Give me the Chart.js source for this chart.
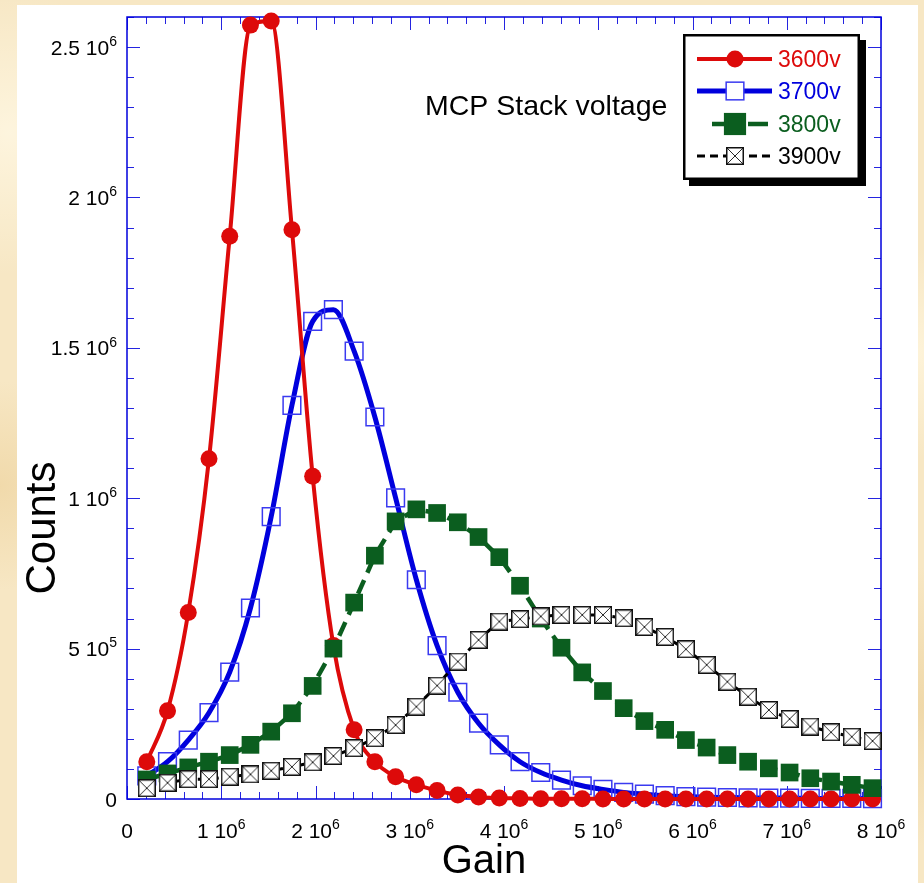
<!DOCTYPE html>
<html>
<head>
<meta charset="utf-8">
<title>MCP gain distribution</title>
<script src="https://cdn.jsdelivr.net/npm/chart.js@4.4.0/dist/chart.umd.min.js"></script>
<style>
    html, body { margin: 0; padding: 0; }
    body {
        width: 924px; height: 883px; overflow: hidden;
        background-color: #f7e7c4;
        background-image:
            radial-gradient(circle at 1% 15%, rgba(255, 248, 228, 0.8), transparent 12%),
            radial-gradient(circle at 0% 55%, rgba(238, 212, 160, 0.7), transparent 10%),
            radial-gradient(circle at 99% 40%, rgba(255, 246, 222, 0.8), transparent 10%),
            radial-gradient(circle at 100% 80%, rgba(236, 210, 158, 0.7), transparent 12%);
    }
    canvas { display: block; }
</style>
</head>
<body>
<canvas id="gainChart" width="924" height="883"></canvas>
<script>
const FONT = '"Liberation Sans", Arial, Helvetica, sans-serif';

// gain (x) of every bin
const gain = [2.1e5, 4.3e5, 6.5e5, 8.7e5, 1.09e6, 1.31e6, 1.53e6, 1.75e6, 1.97e6, 2.19e6,
    2.41e6, 2.63e6, 2.85e6, 3.07e6, 3.29e6, 3.51e6, 3.73e6, 3.95e6, 4.17e6, 4.39e6,
    4.61e6, 4.83e6, 5.05e6, 5.27e6, 5.49e6, 5.71e6, 5.93e6, 6.15e6, 6.37e6, 6.59e6,
    6.81e6, 7.03e6, 7.25e6, 7.47e6, 7.69e6, 7.91e6];

// counts per voltage
const counts3600 = [1.24e5, 2.93e5, 6.20e5, 1.131e6, 1.871e6, 2.573e6, 2.587e6, 1.893e6, 1.073e6, 5.1e5,
    2.30e5, 1.24e5, 7.4e4, 4.7e4, 2.8e4, 1.3e4, 7e3, 3e3, 2e3, 1e3,
    1e3, 1e3, 0, 0, 0, 0, 0, 0, 0, 0,
    0, 0, 0, 0, 0, 0];
const counts3700 = [7.7e4, 1.24e5, 1.96e5, 2.87e5, 4.22e5, 6.35e5, 9.39e5, 1.309e6, 1.588e6, 1.627e6,
    1.489e6, 1.270e6, 1.001e6, 7.29e5, 5.10e5, 3.55e5, 2.52e5, 1.80e5, 1.24e5, 8.8e4,
    6.3e4, 4.4e4, 3.2e4, 2.2e4, 1.6e4, 1.1e4, 8e3, 6e3, 5e3, 4e3,
    3e3, 3e3, 2e3, 2e3, 2e3, 1e3];
const counts3800 = [6.5e4, 8.5e4, 1.05e5, 1.24e5, 1.46e5, 1.80e5, 2.24e5, 2.85e5, 3.76e5, 5.0e5,
    6.53e5, 8.09e5, 9.23e5, 9.63e5, 9.51e5, 9.20e5, 8.71e5, 8.04e5, 7.09e5, 6.0e5,
    5.03e5, 4.21e5, 3.59e5, 3.02e5, 2.59e5, 2.30e5, 1.96e5, 1.71e5, 1.46e5, 1.24e5,
    1.02e5, 8.8e4, 6.9e4, 5.8e4, 4.7e4, 3.6e4];
const counts3900 = [3.6e4, 5.4e4, 6.6e4, 6.6e4, 7.4e4, 8.2e4, 9.4e4, 1.07e5, 1.22e5, 1.43e5,
    1.69e5, 2.02e5, 2.46e5, 3.07e5, 3.77e5, 4.57e5, 5.29e5, 5.90e5, 5.98e5, 6.07e5,
    6.12e5, 6.12e5, 6.12e5, 6.01e5, 5.72e5, 5.39e5, 4.98e5, 4.46e5, 3.90e5, 3.40e5,
    2.96e5, 2.66e5, 2.41e5, 2.22e5, 2.07e5, 1.93e5];

const seriesNames = ["3600v", "3700v", "3800v", "3900v"];

// tick labels ("^" marks the exponent)
const xTickValues = [0, 1e6, 2e6, 3e6, 4e6, 5e6, 6e6, 7e6, 8e6];
const xTickLabels = ["0", "1 10^6", "2 10^6", "3 10^6", "4 10^6", "5 10^6", "6 10^6", "7 10^6", "8 10^6"];
const yTickValues = [0, 5e5, 1e6, 1.5e6, 2e6, 2.5e6];
const yTickLabels = ["0", "5 10^5", "1 10^6", "1.5 10^6", "2 10^6", "2.5 10^6"];

const xTitle = "Gain";
const yTitle = "Counts";
const noteText = "MCP Stack voltage";

// square with a cross inside, used as point style for 3900v
function crossBox(size) {
    const c = document.createElement("canvas");
    c.width = size;
    c.height = size;
    const g = c.getContext("2d");
    g.fillStyle = "#ffffff";
    g.fillRect(0, 0, size, size);
    g.strokeStyle = "#111111";
    g.lineWidth = 1.5;
    g.strokeRect(0.75, 0.75, size - 1.5, size - 1.5);
    g.lineWidth = 0.9;
    g.beginPath();
    g.moveTo(1, 1); g.lineTo(size - 1, size - 1);
    g.moveTo(size - 1, 1); g.lineTo(1, size - 1);
    g.stroke();
    return c;
}
const crossImg = crossBox(18);

function pts(ys) {
    return gain.map((g, i) => ({ x: g, y: ys[i] }));
}

// label with a superscript exponent
function drawSupLabel(ctx, label, x, y, align, size) {
    const parts = label.split("^");
    const base = parts[0];
    const exp = parts[1] || "";
    ctx.font = size + "px " + FONT;
    const wb = ctx.measureText(base).width;
    ctx.font = Math.round(size * 0.66) + "px " + FONT;
    const we = exp ? ctx.measureText(exp).width : 0;
    const total = wb + we;
    let start = x;
    if (align === "center") start = x - total / 2;
    if (align === "right") start = x - total;
    ctx.textAlign = "left";
    ctx.textBaseline = "alphabetic";
    ctx.fillStyle = "#000000";
    ctx.font = size + "px " + FONT;
    ctx.fillText(base, start, y);
    if (exp) {
        ctx.font = Math.round(size * 0.66) + "px " + FONT;
        ctx.fillText(exp, start + wb, y - size * 0.42);
    }
}

// white sheet behind the plot
const sheetPlugin = {
    id: "sheet",
    beforeDraw(chart) {
        const ctx = chart.ctx;
        ctx.save();
        ctx.fillStyle = "#ffffff";
        ctx.fillRect(17, 5, 901, 878);
        ctx.restore();
    }
};

// blue frame with inward ticks on all four sides, tick labels, titles
const framePlugin = {
    id: "frame",
    beforeDatasetsDraw(chart) {
        const ctx = chart.ctx;
        const a = chart.chartArea;
        const xs = chart.scales.x;
        const ys = chart.scales.y;
        ctx.save();

        ctx.strokeStyle = "#2424e0";
        ctx.lineWidth = 1;
        ctx.beginPath();
        for (let k = 0; k <= 40; k++) {
            const px = Math.round(xs.getPixelForValue(k * 2e5)) + 0.5;
            const len = k % 5 === 0 ? 13 : 7;
            ctx.moveTo(px, a.bottom); ctx.lineTo(px, a.bottom - len);
            ctx.moveTo(px, a.top); ctx.lineTo(px, a.top + len);
        }
        for (let k = 0; k <= 26; k++) {
            const py = Math.round(ys.getPixelForValue(k * 1e5)) + 0.5;
            const len = k % 5 === 0 ? 13 : 7;
            ctx.moveTo(a.left, py); ctx.lineTo(a.left + len, py);
            ctx.moveTo(a.right, py); ctx.lineTo(a.right - len, py);
        }
        ctx.stroke();

        ctx.strokeStyle = "#0000dd";
        ctx.lineWidth = 1.5;
        ctx.strokeRect(a.left, a.top, a.right - a.left, a.bottom - a.top);

        xTickValues.forEach((v, i) => {
            drawSupLabel(ctx, xTickLabels[i], xs.getPixelForValue(v), 838, "center", 21);
        });
        yTickValues.forEach((v, i) => {
            drawSupLabel(ctx, yTickLabels[i], 117, ys.getPixelForValue(v) + 7.5, "right", 21);
        });

        ctx.fillStyle = "#000000";
        ctx.textBaseline = "alphabetic";
        ctx.textAlign = "center";
        ctx.font = "40px " + FONT;
        ctx.fillText(xTitle, 484, 873);

        ctx.save();
        ctx.translate(55, 528);
        ctx.rotate(-Math.PI / 2);
        ctx.font = "42px " + FONT;
        ctx.fillText(yTitle, 0, 0);
        ctx.restore();

        ctx.textAlign = "left";
        ctx.font = "28.5px " + FONT;
        ctx.fillText(noteText, 425, 115);

        ctx.restore();
    }
};

// boxed legend with drop shadow, text coloured like its series
const legendPlugin = {
    id: "boxLegend",
    afterDraw(chart) {
        const ctx = chart.ctx;
        const bx = 683, by = 34, bw = 177, bh = 146;
        ctx.save();
        ctx.fillStyle = "#000000";
        ctx.fillRect(bx + 6, by + 6, bw, bh);
        ctx.fillStyle = "#ffffff";
        ctx.fillRect(bx, by, bw, bh);
        ctx.strokeStyle = "#000000";
        ctx.lineWidth = 2.5;
        ctx.strokeRect(bx + 1.25, by + 1.25, bw - 2.5, bh - 2.5);

        const rows = [59, 91, 124, 156];
        chart.data.datasets.forEach((ds, i) => {
            const y = rows[i];
            ctx.strokeStyle = ds.borderColor;
            ctx.lineWidth = ds.borderWidth;
            ctx.setLineDash(ds.borderDash || []);
            ctx.beginPath();
            if (i === 2) {
                ctx.setLineDash([]);
                ctx.moveTo(712, y); ctx.lineTo(727, y);
                ctx.moveTo(748, y); ctx.lineTo(768, y);
            } else {
                ctx.moveTo(697, y); ctx.lineTo(772, y);
            }
            ctx.stroke();
            ctx.setLineDash([]);

            const cx = 735;
            if (ds.pointStyle === "circle") {
                ctx.fillStyle = ds.pointBackgroundColor;
                ctx.beginPath();
                ctx.arc(cx, y, ds.pointRadius, 0, Math.PI * 2);
                ctx.fill();
            } else if (ds.pointStyle === "rect") {
                const h = ds.pointRadius * Math.SQRT1_2;
                if (i === 1) {
                    ctx.fillStyle = "#ffffff";
                    ctx.fillRect(cx - h, y - h, 2 * h, 2 * h);
                }
                ctx.fillStyle = ds.pointBackgroundColor;
                ctx.fillRect(cx - h, y - h, 2 * h, 2 * h);
                ctx.strokeStyle = ds.pointBorderColor;
                ctx.lineWidth = ds.pointBorderWidth;
                ctx.strokeRect(cx - h, y - h, 2 * h, 2 * h);
            } else {
                const img = ds.pointStyle;
                ctx.drawImage(img, cx - img.width / 2, y - img.height / 2);
            }

            ctx.fillStyle = ds.legendColor;
            ctx.font = "23px " + FONT;
            ctx.textAlign = "left";
            ctx.textBaseline = "alphabetic";
            ctx.fillText(seriesNames[i], 778, y + 8);
        });
        ctx.restore();
    }
};

new Chart(document.getElementById("gainChart"), {
    type: "line",
    data: {
        datasets: [
            {
                label: seriesNames[0],
                data: pts(counts3600),
                borderColor: "#dd0a0a",
                borderWidth: 4,
                cubicInterpolationMode: "monotone",
                pointStyle: "circle",
                pointRadius: 8.5,
                pointBackgroundColor: "#dd0a0a",
                pointBorderColor: "#dd0a0a",
                pointBorderWidth: 0,
                legendColor: "#dd0a0a",
                order: 2,
                clip: false
            },
            {
                label: seriesNames[1],
                data: pts(counts3700),
                borderColor: "#0000dd",
                borderWidth: 5,
                cubicInterpolationMode: "monotone",
                pointStyle: "rect",
                pointRadius: 12.5,
                pointBackgroundColor: "rgba(0,0,0,0)",
                pointBorderColor: "#3a3af0",
                pointBorderWidth: 1.5,
                legendColor: "#0000dd",
                order: 3,
                clip: false
            },
            {
                label: seriesNames[2],
                data: pts(counts3800),
                borderColor: "#0b5e1f",
                borderWidth: 4.5,
                borderDash: [15, 8],
                tension: 0,
                pointStyle: "rect",
                pointRadius: 12.5,
                pointBackgroundColor: "#0b5e1f",
                pointBorderColor: "#0b5e1f",
                pointBorderWidth: 0,
                legendColor: "#0b5e1f",
                order: 1,
                clip: false
            },
            {
                label: seriesNames[3],
                data: pts(counts3900),
                borderColor: "#000000",
                borderWidth: 3,
                borderDash: [8, 5],
                tension: 0,
                pointStyle: crossImg,
                pointRadius: 9,
                legendColor: "#000000",
                order: 0,
                clip: false
            }
        ]
    },
    options: {
        responsive: false,
        animation: false,
        events: [],
        layout: { padding: { left: 0, right: 43, top: 17, bottom: 0 } },
        scales: {
            x: {
                type: "linear",
                min: 0,
                max: 8e6,
                ticks: { display: false },
                grid: { display: false },
                border: { display: false },
                afterFit(s) { s.height = 84; }
            },
            y: {
                type: "linear",
                min: 0,
                max: 2.6e6,
                ticks: { display: false },
                grid: { display: false },
                border: { display: false },
                afterFit(s) { s.width = 127; }
            }
        },
        plugins: {
            legend: { display: false },
            tooltip: { enabled: false }
        }
    },
    plugins: [sheetPlugin, framePlugin, legendPlugin]
});
</script>
</body>
</html>
